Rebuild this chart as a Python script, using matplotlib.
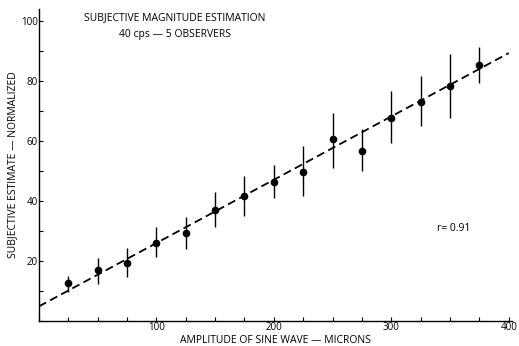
import matplotlib
matplotlib.use("Agg")
import matplotlib.pyplot as plt
import numpy as np
from matplotlib.ticker import MultipleLocator

amplitude = [25, 50, 75, 100, 125, 150, 175, 200, 225, 250, 275, 300, 325, 350, 375]
estimate = [12.7, 17.1, 19.2, 25.9, 29.3, 37.1, 41.8, 46.2, 49.8, 60.7, 56.7, 67.7, 73.1, 78.2, 85.3]
err_top = [15.0, 21.1, 24.2, 31.4, 34.8, 43.1, 48.4, 52.0, 58.4, 69.2, 64.0, 76.6, 81.6, 89.0, 91.2]
err_bottom = [9.8, 12.3, 14.8, 21.2, 24.0, 31.2, 34.9, 40.9, 41.6, 51.0, 50.1, 59.3, 64.9, 67.6, 79.3]
fit_x = [0, 400]
fit_y = [4.9, 89.3]

plt.rcParams['font.family'] = ['Open Sans', 'DejaVu Sans']

fig = plt.figure(figsize=(5.19, 3.46), dpi=100)
ax = fig.add_axes([0.075, 0.072, 0.912, 0.902])

ax.plot(fit_x, fit_y, color='black', lw=1.3, ls=(0, (4.5, 2.5)))
yerr = [np.array(estimate) - np.array(err_bottom), np.array(err_top) - np.array(estimate)]
ax.errorbar(amplitude, estimate, yerr=yerr, fmt='o', color='black', ms=4.5,
            elinewidth=1.0, capsize=0)

ax.set_xlim(0, 403)
ax.set_ylim(0, 104)
ax.xaxis.set_minor_locator(MultipleLocator(25))
ax.yaxis.set_minor_locator(MultipleLocator(10))
ax.set_xticks([100, 200, 300, 400])
ax.set_yticks([20, 40, 60, 80, 100])
ax.tick_params(which='both', direction='in', length=3, width=0.8, labelsize=7, pad=1)
for s in ['top', 'right']:
    ax.spines[s].set_visible(False)
for s in ['left', 'bottom']:
    ax.spines[s].set_linewidth(1.0)

fig.text(0.53, 0.016, 'AMPLITUDE OF SINE WAVE — MICRONS', fontsize=7.5, ha='center', va='center')
ax.set_ylabel('SUBJECTIVE ESTIMATE — NORMALIZED', fontsize=7.5, labelpad=2)

fig.text(0.337, 0.948, 'SUBJECTIVE MAGNITUDE ESTIMATION', fontsize=7.5, ha='center', va='center')
fig.text(0.337, 0.900, '40 cps — 5 OBSERVERS', fontsize=7.5, ha='center', va='center')
ax.text(0.84, 0.297, 'r= 0.91', transform=ax.transAxes, fontsize=7.5, ha='left', va='center')

fig.savefig('out.png', dpi=100)
